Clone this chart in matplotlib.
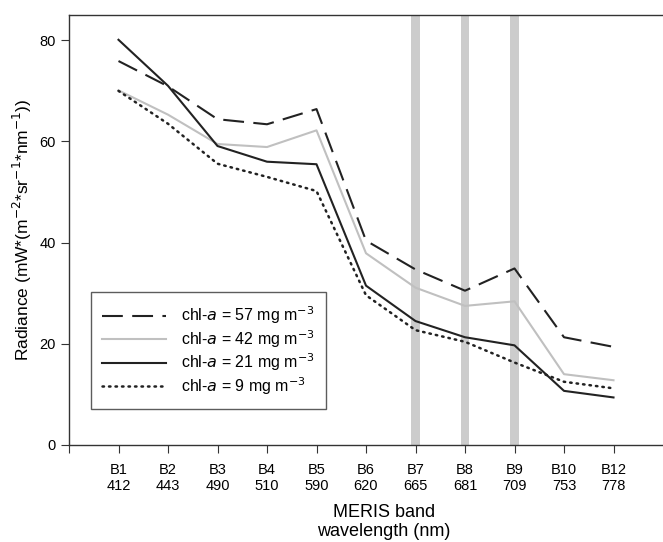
import matplotlib
matplotlib.use('Agg')
import matplotlib.pyplot as plt

bands = ["B1", "B2", "B3", "B4", "B5", "B6", "B7", "B8", "B9", "B10", "B12"]
wavelengths = [412, 443, 490, 510, 590, 620, 665, 681, 709, 753, 778]

chl_57 = [75.9, 70.9, 64.4, 63.4, 66.4, 40.4, 34.7, 30.5, 34.9, 21.3, 19.4]
chl_42 = [70.1, 65.3, 59.5, 58.9, 62.2, 37.9, 31.1, 27.5, 28.4, 14.0, 12.8]
chl_21 = [80.1, 71.0, 59.1, 56.0, 55.5, 31.5, 24.5, 21.3, 19.7, 10.7, 9.4]
chl_9 = [70.0, 63.5, 55.6, 53.0, 50.2, 29.6, 22.7, 20.4, 16.3, 12.5, 11.2]

highlight_bands = ["B7", "B8", "B9"]

plt.rcParams['font.family'] = ['Liberation Sans', 'DejaVu Sans']

fig = plt.figure(figsize=(6.63, 5.42), dpi=100)
ax = fig.add_axes([69 / 663, 1 - 445 / 542, 594 / 663, 430 / 542])

x = list(range(1, len(bands) + 1))

for b in highlight_bands:
    xi = bands.index(b) + 1
    ax.axvspan(xi - 0.085, xi + 0.085, color="#cccccc", lw=0, zorder=0)

ax.plot(x, chl_57, color="#222222", lw=1.5, dashes=(10, 4.5),
        label="chl-$a$ = 57 mg m$^{-3}$")
ax.plot(x, chl_42, color="#c0c0c0", lw=1.5, label="chl-$a$ = 42 mg m$^{-3}$")
ax.plot(x, chl_21, color="#222222", lw=1.5, label="chl-$a$ = 21 mg m$^{-3}$")
ax.plot(x, chl_9, color="#222222", lw=1.8, dashes=(0.6, 2.0),
        dash_capstyle="round", label="chl-$a$ = 9 mg m$^{-3}$")

ax.set_xlim(0, 12)
ax.set_ylim(0, 85)
ax.set_xticks([0] + x)
ax.set_xticklabels([""] + [f"{b}\n{w}" for b, w in zip(bands, wavelengths)],
                   fontsize=10.5)
ax.set_yticks([0, 20, 40, 60, 80])
ax.tick_params(axis="y", labelsize=10.5, direction="out", length=6, color="#333333")
ax.tick_params(axis="x", direction="out", length=6, color="#333333", pad=7)

for s in ["left", "bottom", "top"]:
    ax.spines[s].set_color("#333333")
    ax.spines[s].set_linewidth(1.0)
ax.spines["right"].set_visible(False)

ax.set_ylabel("Radiance (mW*(m$^{-2}$*sr$^{-1}$*nm$^{-1}$))", fontsize=12.5)
ax.set_xlabel("MERIS band\nwavelength (nm)", fontsize=13, linespacing=1.15)
ax.xaxis.set_label_coords(0.53, -0.138)

leg = ax.legend(loc="lower left", bbox_to_anchor=(21.5 / 594, 36 / 430),
                frameon=True, fancybox=False, fontsize=11.5,
                handlelength=4.0, borderpad=0.75, labelspacing=0.12,
                handletextpad=0.9, borderaxespad=0)
leg.get_frame().set_edgecolor("#333333")
leg.get_frame().set_linewidth(1.0)

fig.savefig("out.png", dpi=100)
